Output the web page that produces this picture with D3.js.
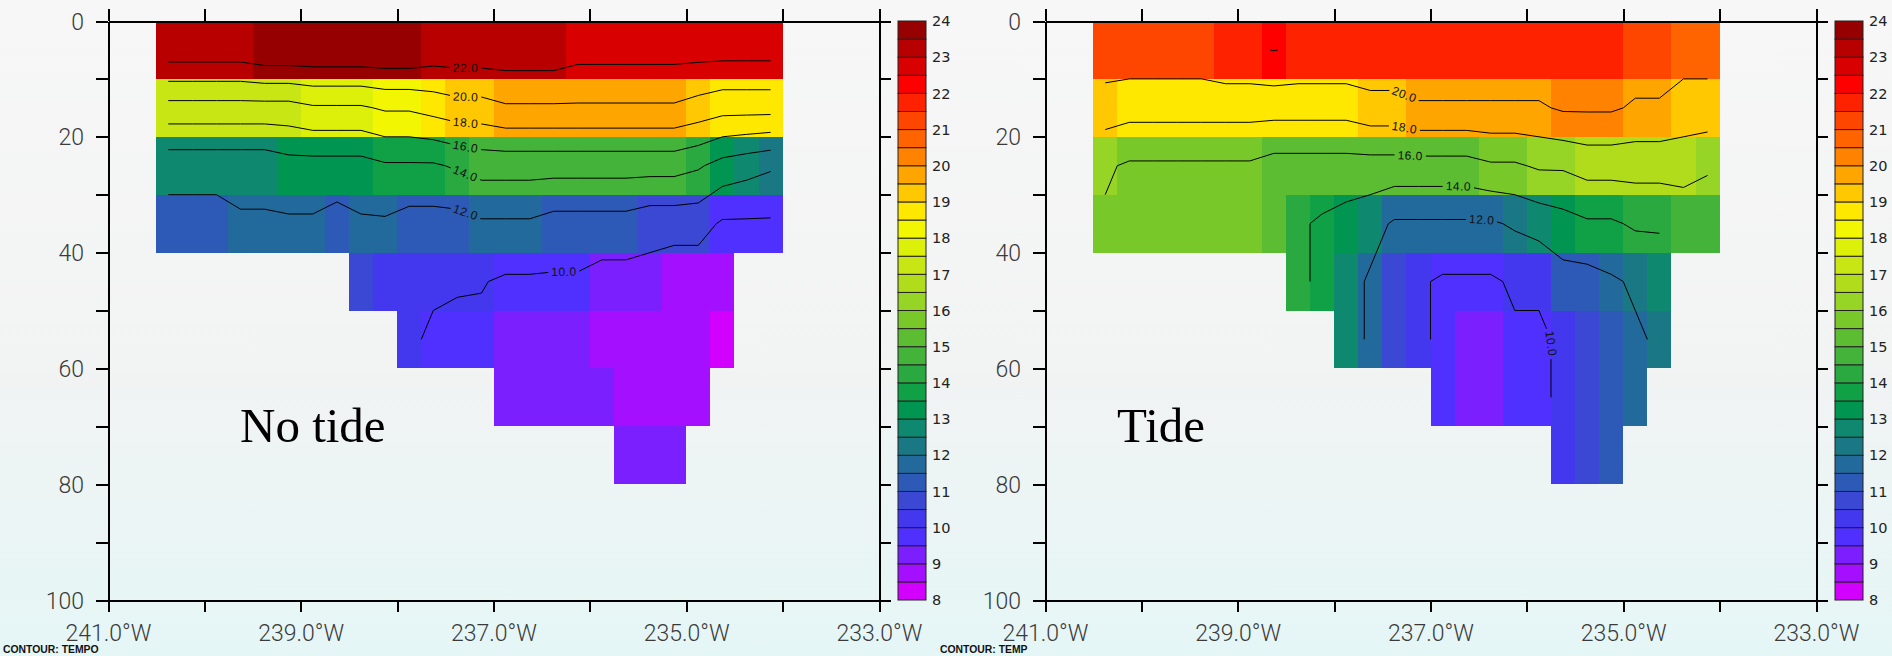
<!DOCTYPE html>
<html><head><meta charset="utf-8">
<script src="https://cdn.jsdelivr.net/npm/d3@7"></script>
<style>
html,body{margin:0;padding:0;overflow:hidden;background:#f2f4f4;}
svg{display:block;}
</style></head>
<body><svg id="chart" width="1892" height="656"></svg>
<script>
// ---------------- DATA ----------------
// cell-centre longitudes (degrees West) and depths (m)
const lonCenters = [240.375, 240.125, 239.875, 239.625, 239.375, 239.125, 238.875, 238.625, 238.375, 238.125,
  237.875, 237.625, 237.375, 237.125, 236.875, 236.625, 236.375, 236.125, 235.875, 235.625,
  235.375, 235.125, 234.875, 234.625, 234.375, 234.125];
const depthCenters = [5, 15, 25, 35, 45, 55, 65, 75];
const cellLon = 0.25;
const cellDepth = 10;
const _ = null;

// temperature (deg C), rows = depth layers, columns = longitude cells
const tempNoTide = [
  [23.25,23.25,23.25,23.25,23.75,23.75,23.75,23.75,23.75,23.75,23.75,23.25,23.25,23.25,23.25,23.25,23.25,22.75,22.75,22.75,22.75,22.75,22.75,22.75,22.75,22.75],
  [17.25,17.25,17.25,17.25,17.25,17.25,17.75,17.75,17.75,18.25,18.25,18.75,19.25,19.25,19.75,19.75,19.75,19.75,19.75,19.75,19.75,19.75,19.25,18.75,18.75,18.75],
  [12.75,12.75,12.75,12.75,12.75,13.25,13.25,13.25,13.25,13.75,13.75,13.75,14.25,14.75,14.75,14.75,14.75,14.75,14.75,14.75,14.75,14.75,14.25,13.25,12.75,12.25],
  [11.25,11.25,11.25,11.75,11.75,11.75,11.75,11.25,11.75,11.75,11.25,11.25,11.25,11.75,11.75,11.75,11.25,11.25,11.25,11.25,10.75,10.75,10.75,9.75,9.75,9.75],
  [_,_,_,_,_,_,_,_,10.75,10.25,10.25,10.25,10.15,10.1,9.75,9.75,9.75,9.75,9.25,9.25,9.25,8.75,8.75,8.75,_,_],
  [_,_,_,_,_,_,_,_,_,_,10.25,9.75,9.6,9.6,9.25,9.25,9.25,9.25,8.75,8.75,8.75,8.75,8.75,8.25,_,_],
  [_,_,_,_,_,_,_,_,_,_,_,_,_,_,9.25,9.25,9.25,9.25,9.25,8.75,8.75,8.75,8.75,_,_,_],
  [_,_,_,_,_,_,_,_,_,_,_,_,_,_,_,_,_,_,_,9.25,9.25,9.25,_,_,_,_]
];
const tempTide = [
  [21.25,21.25,21.25,21.25,21.25,21.75,21.75,22.05,21.75,21.75,21.75,21.75,21.75,21.75,21.75,21.75,21.75,21.75,21.75,21.75,21.75,21.75,21.25,21.25,20.75,20.75],
  [19.05,18.75,18.75,18.75,18.75,18.75,18.75,18.75,18.75,18.75,18.75,19.25,19.25,19.75,19.75,19.75,19.75,19.75,19.75,20.25,20.25,20.25,19.75,19.75,19.25,19.25],
  [16.25,15.75,15.75,15.75,15.75,15.75,15.75,15.25,15.25,15.25,15.25,15.25,15.25,15.25,15.25,15.25,15.75,15.75,16.25,16.25,16.75,16.75,16.75,16.75,16.75,16.25],
  [15.75,15.75,15.75,15.75,15.75,15.75,15.75,15.25,14.25,13.75,13.25,12.75,11.75,11.75,11.75,11.75,11.75,12.25,12.75,13.25,13.75,13.75,14.25,14.25,14.75,14.75],
  [_,_,_,_,_,_,_,_,14.25,13.75,12.75,11.75,10.75,10.25,9.75,9.75,9.75,10.25,10.25,11.25,11.25,11.75,12.25,12.75,_,_],
  [_,_,_,_,_,_,_,_,_,_,12.75,11.75,10.75,10.25,9.75,9.25,9.25,9.75,9.75,10.25,10.75,11.25,11.75,12.25,_,_],
  [_,_,_,_,_,_,_,_,_,_,_,_,_,_,9.75,9.25,9.25,9.75,9.75,10.25,10.75,11.25,11.95,_,_,_],
  [_,_,_,_,_,_,_,_,_,_,_,_,_,_,_,_,_,_,_,10.25,10.75,11.25,_,_,_,_]
];

// colour levels (8 .. 24 step 0.5) and fill colours (lowest first)
const levelBreaks = [8,8.5,9,9.5,10,10.5,11,11.5,12,12.5,13,13.5,14,14.5,15,15.5,16,16.5,17,17.5,18,18.5,19,19.5,20,20.5,21,21.5,22,22.5,23,23.5,24];
const levelColors = ["#d200ff","#a40fff","#7c1fff","#5030ff","#4338ee","#3a48d4","#2d5ab6","#236a9c","#1a7884","#0f8870",
  "#009550","#10a046","#2aa940","#43b439","#5cbd32","#78c829","#96d426","#b0dc1c","#c8e614","#dcf00a",
  "#f2f600","#ffe800","#ffc800","#ffa500","#ff8200","#ff6400","#ff4600","#ff2200","#ff0000","#d80000","#b80000","#960000"];
const contourLevels = [10,12,14,16,18,20,22];
const colorbarLabels = [8,9,10,11,12,13,14,15,16,17,18,19,20,21,22,23,24];

const xTickValues = [241,240,239,238,237,236,235,234,233];
const xTickLabels = ["241.0°W","","239.0°W","","237.0°W","","235.0°W","","233.0°W"];
const yTickValues = [0,10,20,30,40,50,60,70,80,90,100];
const yTickLabels = ["0","","20","","40","","60","","80","","100"];

const panelTitles = ["No tide","Tide"];
const contourCaptions = ["CONTOUR: TEMPO","CONTOUR: TEMP"];
// contour label anchors: [level, lon (°W), depth (m)]
const labelsNoTide = [[22,237.29,8.3],[20,237.29,13.2],[18,237.29,17.7],[16,237.29,21.7],[14,237.29,26.3],[12,237.29,33.1],[10,236.27,43.3]];
const labelsTide = [[20,237.27,12.6],[18,237.27,18.4],[16,237.21,23.1],[14,236.71,28.9],[12,236.47,34.7],[10,235.85,55.7]];

// ---------------- LAYOUT ----------------
const W = 1892, H = 656;
const svg = d3.select("#chart");
const defs = svg.append("defs");
const bg = defs.append("linearGradient").attr("id","bg").attr("x1",0).attr("y1",0).attr("x2",0).attr("y2",1);
bg.append("stop").attr("offset","0%").attr("stop-color","#f7f7f7");
bg.append("stop").attr("offset","55%").attr("stop-color","#f2f3f3");
bg.append("stop").attr("offset","100%").attr("stop-color","#e5f6f6");
svg.append("rect").attr("width",W).attr("height",H).attr("fill","url(#bg)");

const color = d3.scaleThreshold().domain(levelBreaks.slice(1,-1)).range(levelColors);
const fmt = d3.format(".1f");
const axisFont = "Roboto, 'DejaVu Sans', sans-serif";

const panels = [
  {x0:108, x1:879, data:tempNoTide, title:panelTitles[0], titleX:240, caption:contourCaptions[0], capX:3, labels:labelsNoTide},
  {x0:1045, x1:1816, data:tempTide, title:panelTitles[1], titleX:1117, caption:contourCaptions[1], capX:940, labels:labelsTide}
];
const y0 = 21, y1 = 600;

panels.forEach(p => {
  const x = d3.scaleLinear().domain([241,233]).range([p.x0,p.x1]);
  const y = d3.scaleLinear().domain([0,100]).range([y0,y1]);
  const g = svg.append("g");

  // cells
  const cells = [];
  p.data.forEach((row,r) => row.forEach((v,c) => { if (v !== null) cells.push({r,c,v}); }));
  g.append("g").attr("shape-rendering","crispEdges").selectAll("rect").data(cells).join("rect")
    .attr("x", d => x(lonCenters[d.c] + cellLon/2))
    .attr("width", d => x(lonCenters[d.c] - cellLon/2) - x(lonCenters[d.c] + cellLon/2))
    .attr("y", d => y(depthCenters[d.r] - cellDepth/2))
    .attr("height", d => y(depthCenters[d.r] + cellDepth/2) - y(depthCenters[d.r] - cellDepth/2))
    .attr("fill", d => color(d.v));

  // contours
  const xs = lonCenters.map(l => x(l)), ys = depthCenters.map(d => y(d));
  const cg = g.append("g");
  contourLevels.forEach(level => {
    const lines = marching(p.data, level, xs, ys);
    const lab = p.labels.find(l => l[0] === level);
    let labelled = null, best = Infinity, bestInfo = null;
    if (lab) {
      const tx = x(lab[1]), ty = y(lab[2]);
      lines.forEach((ln,i) => {
        const info = nearest(ln, tx, ty);
        if (info.dist < best) { best = info.dist; labelled = i; bestInfo = info; }
      });
      if (best > 40) labelled = null;
    }
    lines.forEach((ln,i) => {
      if (i === labelled) {
        const t = cg.append("text").text(fmt(level))
          .attr("font-family","'Liberation Sans', Arial, sans-serif").attr("font-size",12)
          .attr("letter-spacing","0.5px").attr("fill","#111")
          .attr("text-anchor","middle").attr("dominant-baseline","central");
        const w = t.node().getComputedTextLength();
        const cum = cumLen(ln), s0 = bestInfo.s, L = cum[cum.length-1];
        const a = pointAt(ln,cum,Math.max(0,s0-w/2)), b = pointAt(ln,cum,Math.min(L,s0+w/2));
        let ang = Math.atan2(b[1]-a[1], b[0]-a[0]) * 180 / Math.PI;
        if (ang > 90) ang -= 180; if (ang <= -90) ang += 180;
        const c = pointAt(ln,cum,s0);
        t.attr("transform",`translate(${c[0]},${c[1]}) rotate(${ang})`);
        const gap = w/2 + 3;
        [subLine(ln,cum,0,s0-gap), subLine(ln,cum,s0+gap,L)].forEach(part => {
          if (part.length > 1) cg.append("path").attr("d", d3.line()(part)).attr("fill","none").attr("stroke","#000").attr("stroke-width",1);
        });
      } else {
        cg.append("path").attr("d", d3.line()(ln)).attr("fill","none").attr("stroke","#000").attr("stroke-width",1);
      }
    });
  });

  // axes
  const ax = g.append("g").attr("class","axes");
  ax.append("g").attr("transform",`translate(0,${y1})`)
    .call(d3.axisBottom(x).tickValues(xTickValues).tickSize(12).tickSizeOuter(0).tickPadding(13)
      .tickFormat((d,i) => xTickLabels[i]));
  ax.append("g").attr("transform",`translate(0,${y0})`)
    .call(d3.axisTop(x).tickValues(xTickValues).tickSize(12).tickSizeOuter(0).tickFormat(""));
  const left = ax.append("g").attr("transform",`translate(${p.x0},0)`)
    .call(d3.axisLeft(y).tickValues(yTickValues).tickSize(12).tickSizeOuter(0).tickPadding(12)
      .tickFormat((d,i) => yTickLabels[i]));
  ax.append("g").attr("transform",`translate(${p.x1},0)`)
    .call(d3.axisRight(y).tickValues(yTickValues).tickSize(12).tickSizeOuter(0).tickFormat(""));
  ax.selectAll("path,line").attr("stroke","#000").attr("stroke-width",2).attr("shape-rendering","crispEdges");
  ax.selectAll("text").attr("font-family",axisFont).attr("font-weight",300).attr("font-size",23).attr("fill","#3a3a3a");
  left.selectAll("text").attr("dy","0.35em");

  // colour bar
  const cx0 = p.x1 + 19, cw = 28;
  const cy = d3.scaleLinear().domain([8,24]).range([y1,y0]);
  const cb = g.append("g");
  cb.selectAll("rect").data(levelColors).join("rect")
    .attr("x", cx0).attr("width", cw)
    .attr("y", (d,i) => cy(levelBreaks[i+1])).attr("height", (d,i) => cy(levelBreaks[i]) - cy(levelBreaks[i+1]))
    .attr("fill", d => d).attr("stroke","#222").attr("stroke-width",1);
  cb.selectAll("text").data(colorbarLabels).join("text")
    .attr("x", cx0 + cw + 6).attr("y", d => cy(d)).attr("dy","0.36em")
    .attr("font-family","'DejaVu Sans', sans-serif").attr("font-size",14.5).attr("fill","#222")
    .text(d => d);

  // title & caption
  g.append("text").attr("x", p.titleX).attr("y", 442).text(p.title)
    .attr("font-family","'Liberation Serif', 'DejaVu Serif', serif").attr("font-size",49).attr("fill","#000");
  g.append("text").attr("x", p.capX).attr("y", 653).text(p.caption)
    .attr("font-family","'Liberation Sans', Arial, sans-serif").attr("font-weight","bold").attr("font-size",10.4).attr("fill","#111");
});

// ---------------- helpers ----------------
function marching(T, level, xs, ys) {
  const nr = T.length, nc = T[0].length;
  const pts = new Map(), segs = [];
  function ept(key, r1,c1,r2,c2) {
    if (!pts.has(key)) {
      const a = T[r1][c1], b = T[r2][c2], t = (level - a) / (b - a);
      pts.set(key, [xs[c1] + t*(xs[c2]-xs[c1]), ys[r1] + t*(ys[r2]-ys[r1])]);
    }
    return key;
  }
  for (let r = 0; r < nr-1; r++) for (let c = 0; c < nc-1; c++) {
    const tl = T[r][c], tr = T[r][c+1], bl = T[r+1][c], br = T[r+1][c+1];
    if (tl === null || tr === null || bl === null || br === null) continue;
    const e = {};
    if ((tl>=level) !== (tr>=level)) e.top = ept(`h${r},${c}`, r,c,r,c+1);
    if ((tr>=level) !== (br>=level)) e.right = ept(`v${r},${c+1}`, r,c+1,r+1,c+1);
    if ((bl>=level) !== (br>=level)) e.bottom = ept(`h${r+1},${c}`, r+1,c,r+1,c+1);
    if ((tl>=level) !== (bl>=level)) e.left = ept(`v${r},${c}`, r,c,r+1,c);
    const k = Object.keys(e);
    if (k.length === 2) segs.push([e[k[0]], e[k[1]]]);
    else if (k.length === 4) {
      const center = (tl+tr+bl+br)/4 >= level;
      if ((tl>=level) !== center) { segs.push([e.top,e.left]); segs.push([e.right,e.bottom]); }
      else { segs.push([e.top,e.right]); segs.push([e.left,e.bottom]); }
    }
  }
  const adj = new Map();
  segs.forEach((s,i) => s.forEach(k => { if (!adj.has(k)) adj.set(k,[]); adj.get(k).push(i); }));
  const used = segs.map(() => false);
  const lines = [];
  function walk(k) {
    const line = [k];
    for (;;) {
      const nx = (adj.get(k) || []).find(i => !used[i]);
      if (nx === undefined) break;
      used[nx] = true;
      const s = segs[nx]; k = s[0] === k ? s[1] : s[0];
      line.push(k);
    }
    return line.map(q => pts.get(q));
  }
  for (const [k,list] of adj) if (list.length === 1 && !used[list[0]]) lines.push(walk(k));
  segs.forEach((s,i) => { if (!used[i]) lines.push(walk(s[0])); });
  return lines.filter(l => l.length > 1);
}
function cumLen(ln) {
  const c = [0];
  for (let i = 1; i < ln.length; i++) c.push(c[i-1] + Math.hypot(ln[i][0]-ln[i-1][0], ln[i][1]-ln[i-1][1]));
  return c;
}
function nearest(ln, tx, ty) {
  const cum = cumLen(ln);
  let best = {dist: Infinity, s: 0};
  for (let i = 1; i < ln.length; i++) {
    const ax = ln[i-1][0], ay = ln[i-1][1], bx = ln[i][0], by = ln[i][1];
    const dx = bx-ax, dy = by-ay, l2 = dx*dx+dy*dy;
    let t = l2 ? ((tx-ax)*dx + (ty-ay)*dy) / l2 : 0;
    t = Math.max(0, Math.min(1, t));
    const px = ax + t*dx, py = ay + t*dy, d = Math.hypot(px-tx, py-ty);
    if (d < best.dist) best = {dist: d, s: cum[i-1] + t*(cum[i]-cum[i-1])};
  }
  return best;
}
function pointAt(ln, cum, s) {
  for (let i = 1; i < ln.length; i++) {
    if (s <= cum[i] || i === ln.length-1) {
      const seg = cum[i]-cum[i-1], t = seg ? Math.max(0,Math.min(1,(s-cum[i-1])/seg)) : 0;
      return [ln[i-1][0] + t*(ln[i][0]-ln[i-1][0]), ln[i-1][1] + t*(ln[i][1]-ln[i-1][1])];
    }
  }
  return ln[0];
}
function subLine(ln, cum, s1, s2) {
  const L = cum[cum.length-1];
  s1 = Math.max(0, s1); s2 = Math.min(L, s2);
  if (s2 <= s1) return [];
  const out = [pointAt(ln,cum,s1)];
  for (let i = 0; i < ln.length; i++) if (cum[i] > s1 && cum[i] < s2) out.push(ln[i]);
  out.push(pointAt(ln,cum,s2));
  return out;
}
</script></body></html>
